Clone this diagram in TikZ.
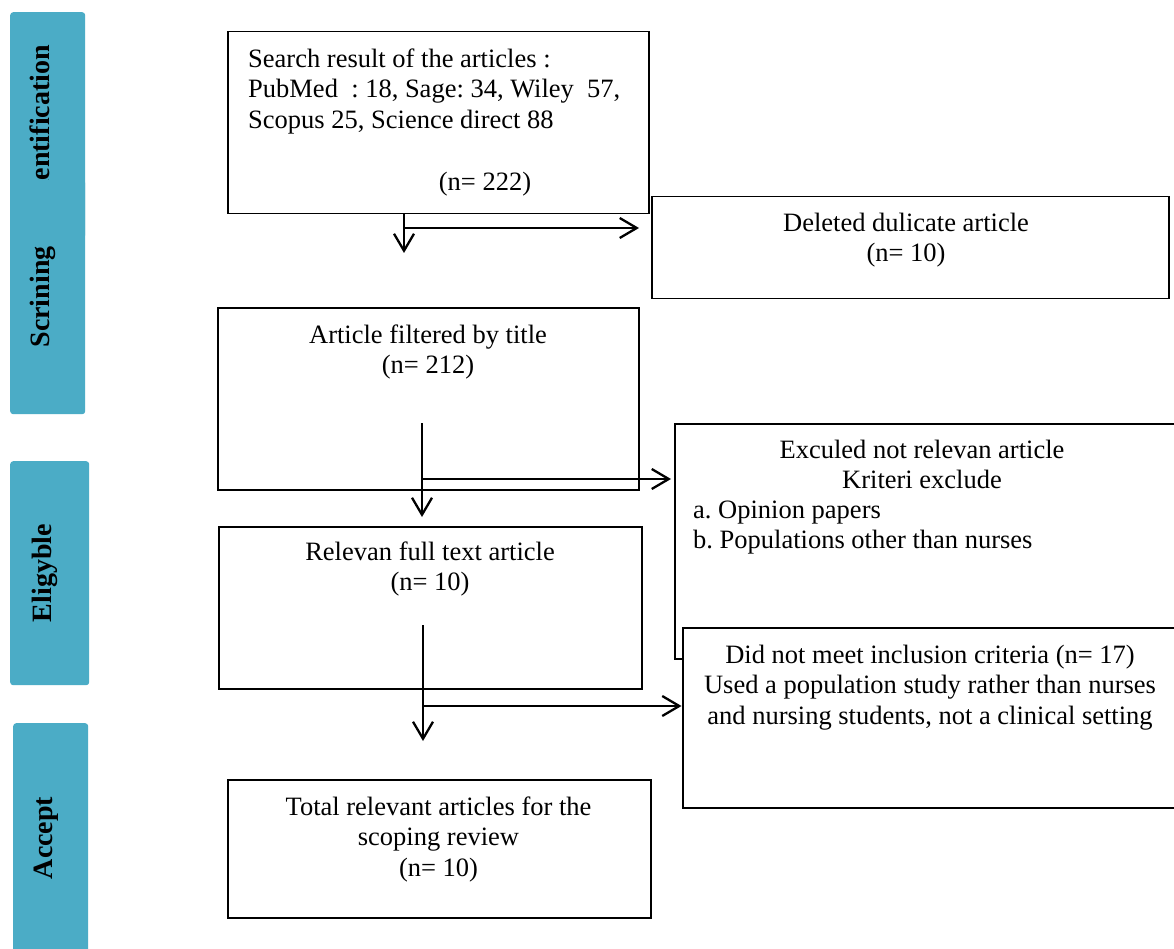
\documentclass[tikz,border=0pt]{standalone}
\usepackage{fontspec}
\setmainfont{Liberation Serif}
\usetikzlibrary{arrows.meta}
\definecolor{barblue}{RGB}{75,172,198}
\newcommand{\firststrut}{\rule{0pt}{22pt}}
\frenchspacing
\begin{document}
\begin{tikzpicture}[x=1pt,y=-1pt,
  box/.style={draw=black, line width=1.5pt, fill=white, inner sep=0pt, anchor=north west},
  bar/.style={fill=barblue, rounded corners=3pt, inner sep=0pt, anchor=north west},
  bartext/.style={font=\fontsize{28}{30}\selectfont\bfseries, rotate=90, anchor=base, inner sep=0pt},
  txt/.style={font=\fontsize{26.5}{30.5}\selectfont, inner sep=0pt, anchor=north},
  flow/.style={line width=2.3pt, -{Straight Barb[length=17pt, width=20pt, line width=2.3pt]}},
]
\useasboundingbox[fill=white] (0,0) rectangle (1174,949);

% side bars
\node[bar, minimum width=75pt, minimum height=226pt] (idbar) at (10,12) {};
\node[bartext] (idtxt) at (49,126) {Identification};
\node[bar, minimum width=75pt, minimum height=234pt] (scrbar) at (10,180) {};
\node[bartext] (scrtxt) at (49,297) {Scrining};
\node[bar, minimum width=79pt, minimum height=224pt] (elbar) at (10,461) {};
\node[bartext] (eltxt) at (51,573) {Eligyble};
\node[bar, minimum width=75pt, minimum height=250pt] (acbar) at (13,723) {};
\node[bartext] (actxt) at (52,838) {Accept};

% boxes
\node[box, minimum width=421pt, minimum height=182pt] (search) at (227,31) {};
\node[box, minimum width=517pt, minimum height=102pt] (deleted) at (651,196) {};
\node[box, minimum width=421pt, minimum height=182pt] (filtered) at (217,307) {};
\node[box, minimum width=520pt, minimum height=235pt] (exclude) at (674,423) {};
\node[box, minimum width=520pt, minimum height=180pt] (didnot) at (682,627) {};
\node[box, minimum width=423pt, minimum height=162pt] (relevan) at (218,526) {};
\node[box, minimum width=423pt, minimum height=138pt] (total) at (227,779) {};

% texts
\node[txt, anchor=north west, align=left] (searchtxt) at (248,45)
  {\firststrut Search result of the articles :\\ PubMed\ \ : 18, Sage: 34, Wiley\ \ 57,\\ Scopus 25, Science direct 88};
\node[txt] (searchn) at (485,168) {\firststrut(n= 222)};
\node[txt, align=center] (deltxt) at (906,209) {\firststrut Deleted dulicate article\\(n= 10)};
\node[txt, align=center] (filtxt) at (428,321) {\firststrut Article filtered by title\\(n= 212)};
\node[txt, align=center] (exctxt) at (922,436) {\firststrut Exculed not relevan article\\Kriteri exclude};
\node[txt, anchor=north west, align=left] (exclist) at (693,496) {\firststrut a. Opinion papers\\b. Populations other than nurses};
\node[txt, align=center] (didtxt) at (930,641) {\firststrut Did not meet inclusion criteria (n= 17)\\Used a population study rather than nurses\\and nursing students, not a clinical setting};
\node[txt, align=center] (reltxt) at (430,538) {\firststrut Relevan full text article\\(n= 10)};
\node[txt, align=center] (tottxt) at (438.5,793) {\firststrut Total relevant articles for the\\scoping review\\(n= 10)};

% connectors
\coordinate (v1) at (404,253);
\coordinate (h1) at (404,228);
\draw[flow] (v1 |- search.south) -- (v1);
\draw[flow, shorten >=12pt] (h1) -- (h1 -| deleted.west);

\coordinate (v2s) at (422,423);
\coordinate (v2) at (422,517);
\coordinate (h2) at (422,479);
\draw[flow] (v2s) -- (v2);
\draw[flow, shorten >=3pt] (h2) -- (h2 -| exclude.west);

\coordinate (v3s) at (423,625);
\coordinate (v3) at (423,741);
\coordinate (h3) at (423,706);
\draw[flow] (v3s) -- (v3);
\draw[flow, shorten >=0.5pt] (h3) -- (h3 -| didnot.west);
\end{tikzpicture}
\end{document}
